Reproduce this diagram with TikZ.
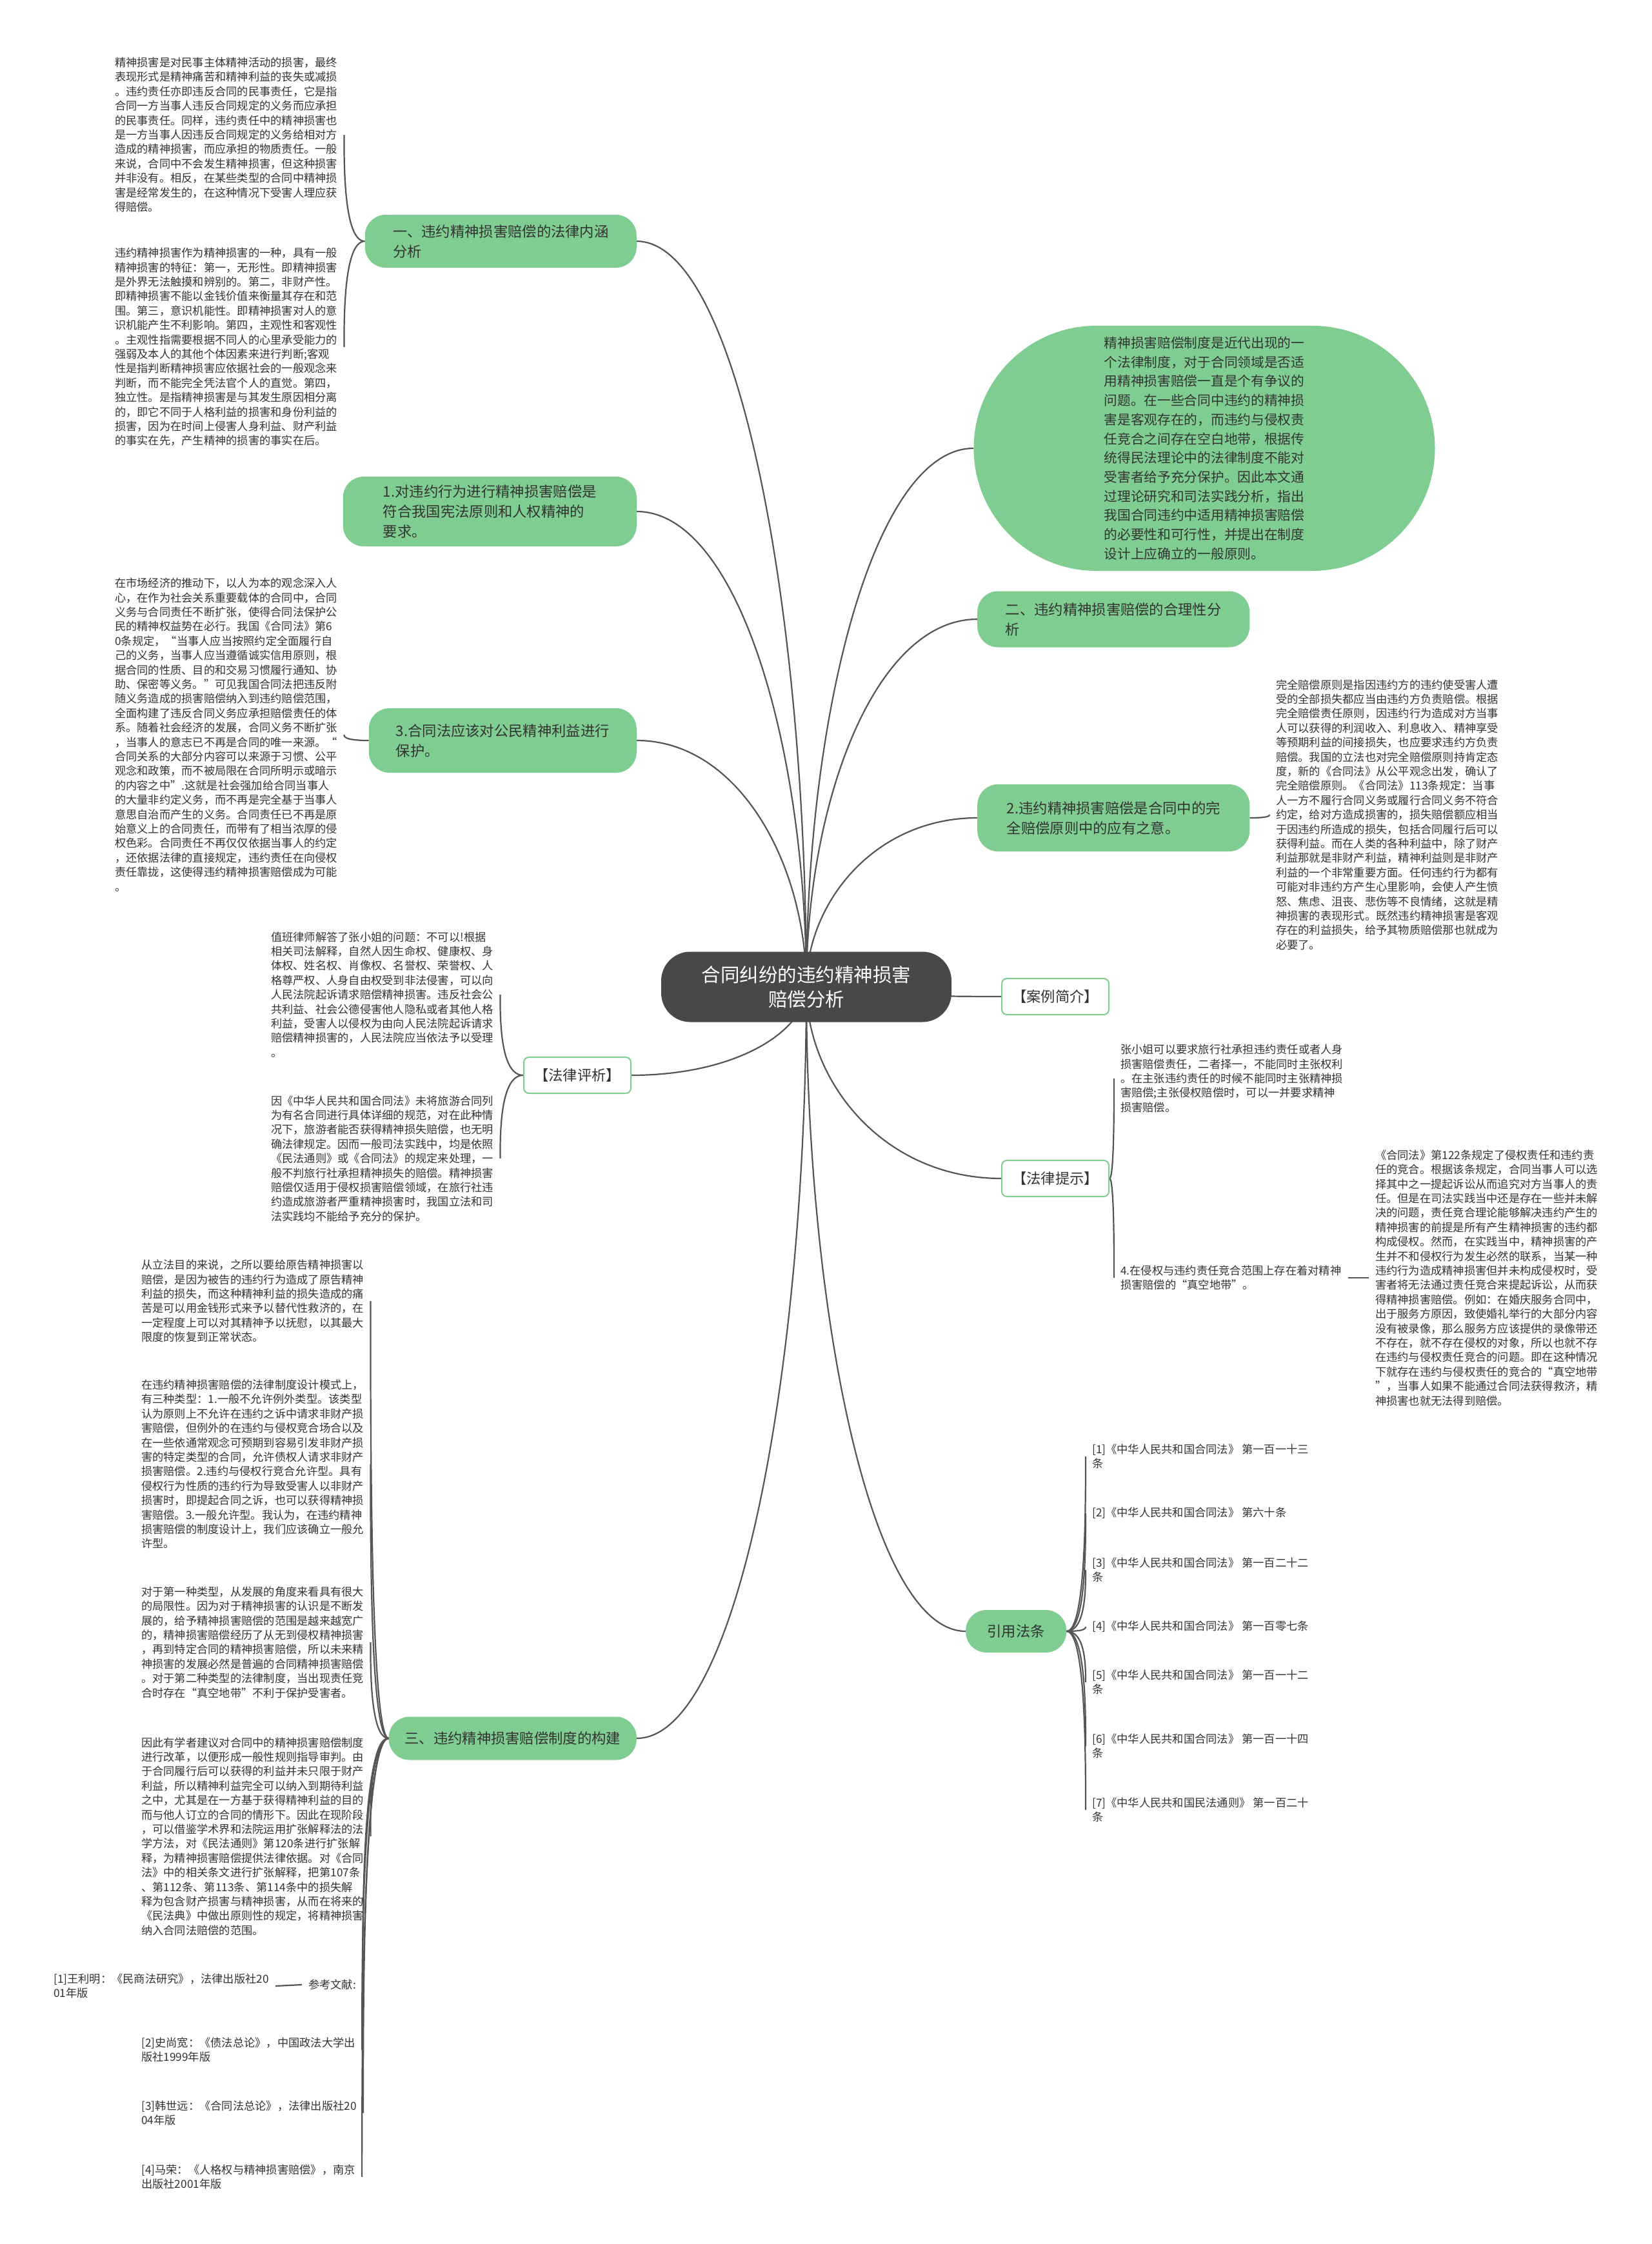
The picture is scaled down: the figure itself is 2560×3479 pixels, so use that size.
\documentclass[tikz,border=0pt]{standalone}
\usepackage{fontspec}
\setmainfont{Noto Sans CJK SC}
\usetikzlibrary{calc,backgrounds}
\definecolor{leafgreen}{HTML}{7FCD91}
\definecolor{rootgray}{HTML}{4A4846}
\definecolor{inkgray}{HTML}{333333}
\definecolor{linkgray}{HTML}{555555}

\begin{document}
\begin{tikzpicture}[
    x=1pt, y=-1pt,
    root/.style={
        fill=rootgray,
        text=white,
        rounded corners=45pt,
        align=center,
        minimum width=450pt,
        minimum height=109pt,
        font=\fontsize{29.5pt}{37.5pt}\selectfont,
    },
    topic/.style={
        fill=leafgreen,
        text=inkgray,
        rounded corners=32pt,
        align=left,
        inner xsep=20pt,
        font=\fontsize{22.3pt}{31pt}\selectfont,
    },
    tag/.style={
        draw=leafgreen,
        line width=2pt,
        fill=white,
        text=inkgray,
        rounded corners=8pt,
        minimum width=166pt,
        minimum height=56pt,
        font=\fontsize{22.3pt}{31pt}\selectfont,
    },
    note/.style={
        text=inkgray,
        align=left,
        inner sep=0pt,
        inner xsep=10pt,
        font=\fontsize{17.25pt}{22.4pt}\selectfont,
    },
    link/.style={draw=linkgray, line width=2.2pt},
    branch/.style={to path={.. controls ($(\tikztostart)!.5!(\tikztostart |- \tikztotarget)$) and ($(\tikztotarget)!.6!(\tikztotarget -| \tikztostart)$) .. (\tikztotarget)}},
    brace/.style={to path={.. controls (\tikztotarget |- \tikztostart) and ($(\tikztotarget)!.3!(\tikztotarget |- \tikztostart)$) .. (\tikztotarget)}},
]
\useasboundingbox (0,0) rectangle (2560,3479);

% centre
\node[root] (root) at (1250,1530) {合同纠纷的违约精神损害\\赔偿分析};

% left topics
\node[topic, anchor=east, minimum width=421pt, minimum height=82pt] (n1) at (987,374)
    {一、违约精神损害赔偿的法律内涵\\分析};
\node[topic, anchor=east, minimum width=455pt, minimum height=108pt] (n2) at (987,793)
    {1.对违约行为进行精神损害赔偿是\\符合我国宪法原则和人权精神的\\要求。};
\node[topic, anchor=east, minimum width=415pt, minimum height=100pt] (n3) at (987,1148)
    {3.合同法应该对公民精神利益进行\\保护。};
\node[tag] (nrev) at (895,1667) {【法律评析】};
\node[topic, anchor=east, minimum width=384pt, minimum height=67pt] (n4) at (987,2695)
    {三、违约精神损害赔偿制度的构建};

% right topics
\node[topic, rounded corners=190pt, minimum width=715pt, minimum height=380pt,
      font=\fontsize{20.7pt}{29.7pt}\selectfont] (m1) at (1867,695)
    {精神损害赔偿制度是近代出现的一\\个法律制度，对于合同领域是否适\\用精神损害赔偿一直是个有争议的\\问题。在一些合同中违约的精神损\\害是客观存在的，而违约与侵权责\\任竞合之间存在空白地带，根据传\\统得民法理论中的法律制度不能对\\受害者给予充分保护。因此本文通\\过理论研究和司法实践分析，指出\\我国合同违约中适用精神损害赔偿\\的必要性和可行性，并提出在制度\\设计上应确立的一般原则。};
\node[topic, anchor=west, minimum width=422pt, minimum height=87pt] (m2) at (1515,960)
    {二、违约精神损害赔偿的合理性分\\析};
\node[topic, anchor=west, minimum width=422pt, minimum height=104pt] (m3) at (1515,1268)
    {2.违约精神损害赔偿是合同中的完\\全赔偿原则中的应有之意。};
\node[tag] (mcase) at (1636,1545) {【案例简介】};
\node[tag] (mtip) at (1636,1827) {【法律提示】};
\node[topic, anchor=west, minimum width=156pt, minimum height=66pt] (mlaw) at (1497,2529) {引用法条};

% left notes
\node[note, anchor=west] (t1a) at (168,209)
    {精神损害是对民事主体精神活动的损害，最终\\表现形式是精神痛苦和精神利益的丧失或减损\\。违约责任亦即违反合同的民事责任，它是指\\合同一方当事人违反合同规定的义务而应承担\\的民事责任。同样，违约责任中的精神损害也\\是一方当事人因违反合同规定的义务给相对方\\造成的精神损害，而应承担的物质责任。一般\\来说，合同中不会发生精神损害，但这种损害\\并非没有。相反，在某些类型的合同中精神损\\害是经常发生的，在这种情况下受害人理应获\\得赔偿。};
\node[note, anchor=west] (t1b) at (168,538)
    {违约精神损害作为精神损害的一种，具有一般\\精神损害的特征：第一，无形性。即精神损害\\是外界无法触摸和辨别的。第二，非财产性。\\即精神损害不能以金钱价值来衡量其存在和范\\围。第三，意识机能性。即精神损害对人的意\\识机能产生不利影响。第四，主观性和客观性\\。主观性指需要根据不同人的心里承受能力的\\强弱及本人的其他个体因素来进行判断;客观\\性是指判断精神损害应依据社会的一般观念来\\判断，而不能完全凭法官个人的直觉。第四，\\独立性。是指精神损害是与其发生原因相分离\\的，即它不同于人格利益的损害和身份利益的\\损害，因为在时间上侵害人身利益、财产利益\\的事实在先，产生精神的损害的事实在后。};
\node[note, anchor=west] (t3) at (168,1139)
    {在市场经济的推动下，以人为本的观念深入人\\心，在作为社会关系重要载体的合同中，合同\\义务与合同责任不断扩张，使得合同法保护公\\民的精神权益势在必行。我国《合同法》第6\\0条规定，“当事人应当按照约定全面履行自\\己的义务，当事人应当遵循诚实信用原则，根\\据合同的性质、目的和交易习惯履行通知、协\\助、保密等义务。”可见我国合同法把违反附\\随义务造成的损害赔偿纳入到违约赔偿范围，\\全面构建了违反合同义务应承担赔偿责任的体\\系。随着社会经济的发展，合同义务不断扩张\\，当事人的意志已不再是合同的唯一来源。“\\合同关系的大部分内容可以来源于习惯、公平\\观念和政策，而不被局限在合同所明示或暗示\\的内容之中”.这就是社会强加给合同当事人\\的大量非约定义务，而不再是完全基于当事人\\意思自治而产生的义务。合同责任已不再是原\\始意义上的合同责任，而带有了相当浓厚的侵\\权色彩。合同责任不再仅仅依据当事人的约定\\，还依据法律的直接规定，违约责任在向侵权\\责任靠拢，这使得违约精神损害赔偿成为可能\\。};
\node[note, anchor=west] (tra) at (410,1542)
    {值班律师解答了张小姐的问题：不可以!根据\\相关司法解释，自然人因生命权、健康权、身\\体权、姓名权、肖像权、名誉权、荣誉权、人\\格尊严权、人身自由权受到非法侵害，可以向\\人民法院起诉请求赔偿精神损害。违反社会公\\共利益、社会公德侵害他人隐私或者其他人格\\利益，受害人以侵权为由向人民法院起诉请求\\赔偿精神损害的，人民法院应当依法予以受理\\。};
\node[note, anchor=west] (trb) at (410,1796)
    {因《中华人民共和国合同法》未将旅游合同列\\为有名合同进行具体详细的规范，对在此种情\\况下，旅游者能否获得精神损失赔偿，也无明\\确法律规定。因而一般司法实践中，均是依照\\《民法通则》或《合同法》的规定来处理，一\\般不判旅行社承担精神损失的赔偿。精神损害\\赔偿仅适用于侵权损害赔偿领域，在旅行社违\\约造成旅游者严重精神损害时，我国立法和司\\法实践均不能给予充分的保护。};
\node[note, anchor=west] (b1) at (209,2017)
    {从立法目的来说，之所以要给原告精神损害以\\赔偿，是因为被告的违约行为造成了原告精神\\利益的损失，而这种精神利益的损失造成的痛\\苦是可以用金钱形式来予以替代性救济的，在\\一定程度上可以对其精神予以抚慰，以其最大\\限度的恢复到正常状态。};
\node[note, anchor=west] (b2) at (209,2270)
    {在违约精神损害赔偿的法律制度设计模式上，\\有三种类型：1.一般不允许例外类型。该类型\\认为原则上不允许在违约之诉中请求非财产损\\害赔偿，但例外的在违约与侵权竞合场合以及\\在一些依通常观念可预期到容易引发非财产损\\害的特定类型的合同，允许债权人请求非财产\\损害赔偿。2.违约与侵权行竞合允许型。具有\\侵权行为性质的违约行为导致受害人以非财产\\损害时，即提起合同之诉，也可以获得精神损\\害赔偿。3.一般允许型。我认为，在违约精神\\损害赔偿的制度设计上，我们应该确立一般允\\许型。};
\node[note, anchor=west] (b3) at (209,2546)
    {对于第一种类型，从发展的角度来看具有很大\\的局限性。因为对于精神损害的认识是不断发\\展的，给予精神损害赔偿的范围是越来越宽广\\的，精神损害赔偿经历了从无到侵权精神损害\\，再到特定合同的精神损害赔偿，所以未来精\\神损害的发展必然是普遍的合同精神损害赔偿\\。对于第二种类型的法律制度，当出现责任竞\\合时存在“真空地带”不利于保护受害者。};
\node[note, anchor=west] (b4) at (209,2847)
    {因此有学者建议对合同中的精神损害赔偿制度\\进行改革，以便形成一般性规则指导审判。由\\于合同履行后可以获得的利益并未只限于财产\\利益，所以精神利益完全可以纳入到期待利益\\之中，尤其是在一方基于获得精神利益的目的\\而与他人订立的合同的情形下。因此在现阶段\\，可以借鉴学术界和法院运用扩张解释法的法\\学方法，对《民法通则》第120条进行扩张解\\释，为精神损害赔偿提供法律依据。对《合同\\法》中的相关条文进行扩张解释，把第107条\\、第112条、第113条、第114条中的损失解\\释为包含财产损害与精神损害，从而在将来的\\《民法典》中做出原则性的规定，将精神损害\\纳入合同法赔偿的范围。};
\node[note, anchor=west] (ref) at (468,3077) {参考文献:};
\node[note, anchor=west] (r1) at (73,3079) {[1]王利明：《民商法研究》，法律出版社20\\01年版};
\node[note, anchor=west] (r2) at (209,3178) {[2]史尚宽：《债法总论》，中国政法大学出\\版社1999年版};
\node[note, anchor=west] (r3) at (209,3276) {[3]韩世远：《合同法总论》，法律出版社20\\04年版};
\node[note, anchor=west] (r4) at (209,3375) {[4]马荣：《人格权与精神损害赔偿》，南京\\出版社2001年版};

% right notes
\node[note, anchor=west] (s2) at (1968,1263)
    {完全赔偿原则是指因违约方的违约使受害人遭\\受的全部损失都应当由违约方负责赔偿。根据\\完全赔偿责任原则，因违约行为造成对方当事\\人可以获得的利润收入、利息收入、精神享受\\等预期利益的间接损失，也应要求违约方负责\\赔偿。我国的立法也对完全赔偿原则持肯定态\\度，新的《合同法》从公平观念出发，确认了\\完全赔偿原则。《合同法》113条规定：当事\\人一方不履行合同义务或履行合同义务不符合\\约定，给对方造成损害的，损失赔偿额应相当\\于因违约所造成的损失，包括合同履行后可以\\获得利益。而在人类的各种利益中，除了财产\\利益那就是非财产利益，精神利益则是非财产\\利益的一个非常重要方面。任何违约行为都有\\可能对非违约方产生心里影响，会使人产生愤\\怒、焦虑、沮丧、悲伤等不良情绪，这就是精\\神损害的表现形式。既然违约精神损害是客观\\存在的利益损失，给予其物质赔偿那也就成为\\必要了。};
\node[note, anchor=west] (case) at (1727,1672)
    {张小姐可以要求旅行社承担违约责任或者人身\\损害赔偿责任，二者择一，不能同时主张权利\\。在主张违约责任的时候不能同时主张精神损\\害赔偿;主张侵权赔偿时，可以一并要求精神\\损害赔偿。};
\node[note, anchor=west] (gap) at (1727,1981)
    {4.在侵权与违约责任竞合范围上存在着对精神\\损害赔偿的“真空地带”。};
\node[note, anchor=west] (g122) at (2122,1981)
    {《合同法》第122条规定了侵权责任和违约责\\任的竞合。根据该条规定，合同当事人可以选\\择其中之一提起诉讼从而追究对方当事人的责\\任。但是在司法实践当中还是存在一些并未解\\决的问题，责任竞合理论能够解决违约产生的\\精神损害的前提是所有产生精神损害的违约都\\构成侵权。然而，在实践当中，精神损害的产\\生并不和侵权行为发生必然的联系，当某一种\\违约行为造成精神损害但并未构成侵权时，受\\害者将无法通过责任竞合来提起诉讼，从而获\\得精神损害赔偿。例如：在婚庆服务合同中，\\出于服务方原因，致使婚礼举行的大部分内容\\没有被录像，那么服务方应该提供的录像带还\\不存在，就不存在侵权的对象，所以也就不存\\在违约与侵权责任竞合的问题。即在这种情况\\下就存在违约与侵权责任的竞合的“真空地带\\”，当事人如果不能通过合同法获得救济，精\\神损害也就无法得到赔偿。};
\node[note, anchor=west] (c1) at (1683,2258) {[1]《中华人民共和国合同法》 第一百一十三\\条};
\node[note, anchor=west] (c2) at (1683,2346) {[2]《中华人民共和国合同法》 第六十条};
\node[note, anchor=west] (c3) at (1683,2434) {[3]《中华人民共和国合同法》 第一百二十二\\条};
\node[note, anchor=west] (c4) at (1683,2522) {[4]《中华人民共和国合同法》 第一百零七条};
\node[note, anchor=west] (c5) at (1683,2608) {[5]《中华人民共和国合同法》 第一百一十二\\条};
\node[note, anchor=west] (c6) at (1683,2707) {[6]《中华人民共和国合同法》 第一百一十四\\条};
\node[note, anchor=west] (c7) at (1683,2806) {[7]《中华人民共和国民法通则》 第一百二十\\条};

\begin{scope}[on background layer]
\fill[white] (0,0) rectangle (2560,3479);
% centre to topics
\foreach \n in {n1,n2,n3,nrev,n4}
    \draw[link, branch] (root.center) to (\n.east);
\foreach \n in {m1,m2,m3,mcase,mtip,mlaw}
    \draw[link, branch] (root.center) to (\n.west);
% topics to notes
\foreach \t in {t1a,t1b}
    \draw[link, brace] (n1.west) to (\t.east);
\draw[link, brace] (n3.west) to (t3.east);
\foreach \t in {tra,trb}
    \draw[link, brace] (nrev.west) to (\t.east);
\foreach \t in {b1,b2,b3,b4,ref,r2,r3,r4}
    \draw[link, brace] (n4.west) to (\t.east);
\draw[link] (ref.west) -- (r1.east);
\draw[link, brace] (m3.east) to (s2.west);
\foreach \t in {case,gap}
    \draw[link, brace] (mtip.east) to (\t.west);
\draw[link] (gap.east) -- (g122.west);
\foreach \t in {c1,c2,c3,c4,c5,c6,c7}
    \draw[link, brace] (mlaw.east) to (\t.west);
\end{scope}

\end{tikzpicture}
\end{document}
